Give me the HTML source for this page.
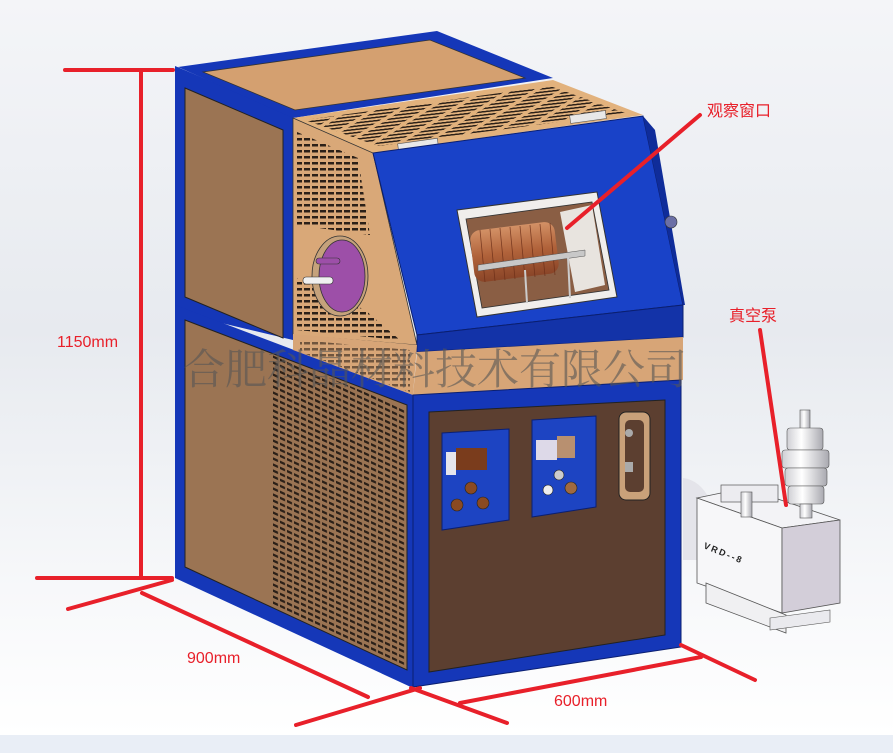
<!DOCTYPE html>
<html><head><meta charset="utf-8"><style>
html,body{margin:0;padding:0;width:893px;height:753px;overflow:hidden;}
svg{display:block}
</style></head><body>
<svg width="893" height="753" viewBox="0 0 893 753" xmlns="http://www.w3.org/2000/svg">
<defs>
<linearGradient id="bg" x1="0" y1="0" x2="0" y2="1">
<stop offset="0" stop-color="#f4f5f8"/><stop offset="0.45" stop-color="#e7eaef"/><stop offset="0.8" stop-color="#f7f8fa"/><stop offset="1" stop-color="#ffffff"/>
</linearGradient>
<pattern id="slotV" width="7" height="6" patternUnits="userSpaceOnUse" patternTransform="skewY(25)">
<rect x="0" y="0" width="5" height="2.5" fill="#2b2018"/></pattern>
<pattern id="slotS" width="8" height="6" patternUnits="userSpaceOnUse">
<rect x="0" y="0" width="6" height="2.5" fill="#2b2018"/></pattern>
<pattern id="slotTop" width="26" height="4" patternUnits="userSpaceOnUse" patternTransform="skewX(-60) rotate(-8)">
<rect x="0" y="0" width="20" height="1.8" fill="#2b2018"/></pattern>
<linearGradient id="cyl" x1="0" x2="1"><stop offset="0" stop-color="#cfcfd4"/><stop offset="0.4" stop-color="#ffffff"/><stop offset="1" stop-color="#a9a9b0"/></linearGradient>
<linearGradient id="coil" x1="0" y1="0" x2="0" y2="1"><stop offset="0" stop-color="#d39166"/><stop offset="0.5" stop-color="#b0623a"/><stop offset="1" stop-color="#8a4528"/></linearGradient>
</defs>
<rect width="893" height="735" fill="url(#bg)"/>
<rect y="735" width="893" height="18" fill="#e9eef6"/>

<!-- upper left face -->
<polygon points="175,66 293,116 293,340 175,312" fill="#1537b8"/>
<polygon points="185,88 283,130 283,338 185,297" fill="#9b7453" stroke="#222" stroke-width="1"/>
<!-- top face of left box -->
<polygon points="178,67 437,31 553,78 293,118" fill="#1537b8"/>
<polygon points="203,72 430,40 525,78 295,110" fill="#d4a070" stroke="#333" stroke-width="0.8"/>
<!-- vent top -->
<polygon points="293,118 553,80 643,115 373,153" fill="#e2b27d"/>
<polygon points="305,120 550,86 625,113 378,146" fill="url(#slotTop)"/>
<rect x="398" y="141" width="40" height="8" fill="#e8e8e8" stroke="#555" stroke-width="0.6" transform="rotate(-8 418 145)"/>
<rect x="570" y="113" width="36" height="8" fill="#e8e8e8" stroke="#555" stroke-width="0.6" transform="rotate(-8 588 117)"/>
<!-- tan vented side of furnace -->
<polygon points="293,118 373,153 417,345 293,335" fill="#d9a878" stroke="#333" stroke-width="0.8"/>
<polygon points="297,132 358,158 370,235 297,225" fill="url(#slotS)"/>
<polygon points="297,278 365,310 400,340 297,330" fill="url(#slotS)"/>
<!-- purple flange -->
<ellipse cx="340" cy="276" rx="28" ry="40" fill="#c5a27b" stroke="#333" stroke-width="0.8"/>
<ellipse cx="342" cy="276" rx="23" ry="36" fill="#9d4fa8" stroke="#333" stroke-width="0.8"/>
<rect x="316" y="258" width="24" height="6" rx="3" fill="#9d4fa8" stroke="#333" stroke-width="0.6"/>
<rect x="303" y="277" width="30" height="7" rx="3" fill="#f0f0f0" stroke="#333" stroke-width="0.6"/>
<!-- sloped blue front panel -->
<polygon points="373,153 643,116 683,305 417,335" fill="#1942c8" stroke="#0b1f70" stroke-width="1"/>
<polygon points="643,116 655,130 685,305 683,305" fill="#0f2c9a"/>
<circle cx="671" cy="222" r="6" fill="#6b6fa6" stroke="#333" stroke-width="0.6"/>
<polygon points="417,335 683,305 683,337 417,352" fill="#1333a8" stroke="#0b1f70" stroke-width="1"/>
<!-- window -->
<polygon points="457,210 597,192 617,297 477,317" fill="#f0eeec" stroke="#333" stroke-width="1"/>
<polygon points="466,219 592,202 609,290 482,308" fill="#8a5e44" stroke="#333" stroke-width="0.8"/>
<polygon points="560,212 592,205 605,285 575,292" fill="#e8e4df"/>
<rect x="472" y="226" width="85" height="52" rx="10" fill="url(#coil)" transform="rotate(-7 514 252)"/>
<g stroke="#6b2e18" stroke-width="0.8" opacity="0.8">
<line x1="480" y1="230" x2="485" y2="282"/><line x1="490" y1="229" x2="495" y2="281"/><line x1="500" y1="228" x2="505" y2="280"/><line x1="510" y1="227" x2="515" y2="279"/><line x1="520" y1="226" x2="525" y2="278"/><line x1="530" y1="225" x2="535" y2="277"/><line x1="540" y1="224" x2="545" y2="276"/><line x1="550" y1="223" x2="555" y2="275"/>
</g>
<polygon points="478,265 585,250 585,256 478,271" fill="#c8c8c8" stroke="#555" stroke-width="0.5"/>
<line x1="525" y1="270" x2="527" y2="303" stroke="#ccc" stroke-width="2"/>
<line x1="568" y1="257" x2="570" y2="298" stroke="#ccc" stroke-width="2"/>

<!-- lower body left face -->
<polygon points="175,305 413,395 413,688 175,578" fill="#1537b8"/>
<polygon points="185,320 407,405 407,670 185,567" fill="#9b7453" stroke="#222" stroke-width="1"/>
<polygon points="272,355 405,408 405,668 272,606" fill="url(#slotV)"/>
<!-- lower body top (tan band) -->
<polygon points="293,334 417,345 413,395 293,350" fill="#d7a577"/>
<polygon points="300,340 410,350 410,392 300,352" fill="url(#slotS)" opacity="0.6"/>
<polygon points="417,352 683,337 683,380 413,395" fill="#d7a577"/>
<!-- lower body front -->
<polygon points="413,395 681,380 681,647 413,687" fill="#1537b8" stroke="#0b1f70" stroke-width="1"/>
<polygon points="429,412 665,400 665,635 429,672" fill="#5c3f30" stroke="#222" stroke-width="1"/>
<!-- control panel 1 -->
<polygon points="442,433 509,429 509,520 442,530" fill="#1d44c2" stroke="#0b1f70" stroke-width="1"/>
<rect x="446" y="452" width="10" height="23" fill="#e5e5ec"/>
<rect x="456" y="448" width="31" height="22" fill="#7a3c1c"/>
<circle cx="471" cy="488" r="6" fill="#8a4a22" stroke="#222" stroke-width="0.6"/>
<circle cx="457" cy="505" r="6" fill="#8a4a22" stroke="#222" stroke-width="0.6"/>
<circle cx="483" cy="503" r="6" fill="#8a4a22" stroke="#222" stroke-width="0.6"/>
<!-- control panel 2 -->
<polygon points="532,420 596,416 596,507 532,517" fill="#1d44c2" stroke="#0b1f70" stroke-width="1"/>
<rect x="536" y="440" width="21" height="20" fill="#ddd9e8"/>
<rect x="557" y="436" width="18" height="22" fill="#b89070"/>
<circle cx="559" cy="475" r="5" fill="#ccc" stroke="#222" stroke-width="0.6"/>
<circle cx="548" cy="490" r="5" fill="#eee" stroke="#222" stroke-width="0.6"/>
<circle cx="571" cy="488" r="6" fill="#a06a40" stroke="#222" stroke-width="0.6"/>
<!-- handle -->
<rect x="619" y="412" width="31" height="88" rx="7" fill="#c9a17a" stroke="#222" stroke-width="1"/>
<rect x="625" y="420" width="19" height="72" rx="5" fill="#5c3f30"/>
<circle cx="629" cy="433" r="4" fill="#aaa"/><rect x="625" y="462" width="8" height="10" fill="#aaa"/>

<!-- vacuum pump -->
<path d="M683,478 Q700,480 710,500 L705,560 L683,560 Z" fill="#e4e4ea"/>
<polygon points="697,498 745,488 840,520 782,528" fill="#f3f3f6" stroke="#555" stroke-width="0.8"/>
<polygon points="697,498 782,528 782,613 697,583" fill="#f7f7f9" stroke="#555" stroke-width="0.8"/>
<polygon points="782,528 840,520 840,603 782,613" fill="#d3ced9" stroke="#555" stroke-width="0.8"/>
<polygon points="706,583 786,615 786,633 706,603" fill="#f0f0f2" stroke="#555" stroke-width="0.8"/>
<polygon points="770,618 830,610 830,622 770,630" fill="#eaeaee" stroke="#555" stroke-width="0.6"/>
<rect x="721" y="485" width="57" height="17" fill="#ececf0" stroke="#555" stroke-width="0.7"/>
<rect x="741" y="492" width="11" height="25" fill="url(#cyl)" stroke="#555" stroke-width="0.6"/>
<rect x="800" y="410" width="10" height="20" fill="url(#cyl)" stroke="#555" stroke-width="0.6"/>
<rect x="787" y="428" width="36" height="22" rx="3" fill="url(#cyl)" stroke="#555" stroke-width="0.6"/>
<rect x="782" y="450" width="47" height="18" rx="3" fill="url(#cyl)" stroke="#555" stroke-width="0.6"/>
<rect x="785" y="468" width="42" height="18" rx="3" fill="url(#cyl)" stroke="#555" stroke-width="0.6"/>
<rect x="788" y="486" width="36" height="18" rx="3" fill="url(#cyl)" stroke="#555" stroke-width="0.6"/>
<rect x="800" y="504" width="12" height="14" fill="url(#cyl)" stroke="#555" stroke-width="0.6"/>
<text x="703" y="548" font-family="Liberation Sans, sans-serif" font-size="9" font-weight="bold" fill="#222" transform="rotate(22 703 548)" letter-spacing="2">VRD--8</text>

<!-- watermark -->
<text x="183" y="384" font-family="Liberation Serif, 'Noto Serif CJK SC', serif" font-size="42" fill="#555" fill-opacity="0.6">合肥科晶材料技术有限公司</text>

<!-- red annotations -->
<g stroke="#e8202a" stroke-width="4" stroke-linecap="round" fill="none">
<line x1="65" y1="70" x2="173" y2="70"/>
<line x1="141" y1="70" x2="141" y2="578"/>
<line x1="37" y1="578" x2="172" y2="578"/>
<line x1="68" y1="609" x2="172" y2="580"/>
<line x1="142" y1="593" x2="368" y2="697"/>
<line x1="296" y1="725" x2="420" y2="688"/>
<line x1="411" y1="688" x2="507" y2="723"/>
<line x1="460" y1="703" x2="701" y2="657"/>
<line x1="681" y1="645" x2="755" y2="680"/>
<line x1="567" y1="228" x2="700" y2="115"/>
<line x1="760" y1="330" x2="786" y2="505"/>
</g>
<g font-family="Liberation Sans, 'Noto Sans CJK SC', sans-serif" font-size="16" fill="#e8202a">
<text x="57" y="347">1150mm</text>
<text x="187" y="663">900mm</text>
<text x="554" y="706">600mm</text>
<text x="707" y="116">观察窗口</text>
<text x="729" y="321">真空泵</text>
</g>
</svg>
</body></html>
